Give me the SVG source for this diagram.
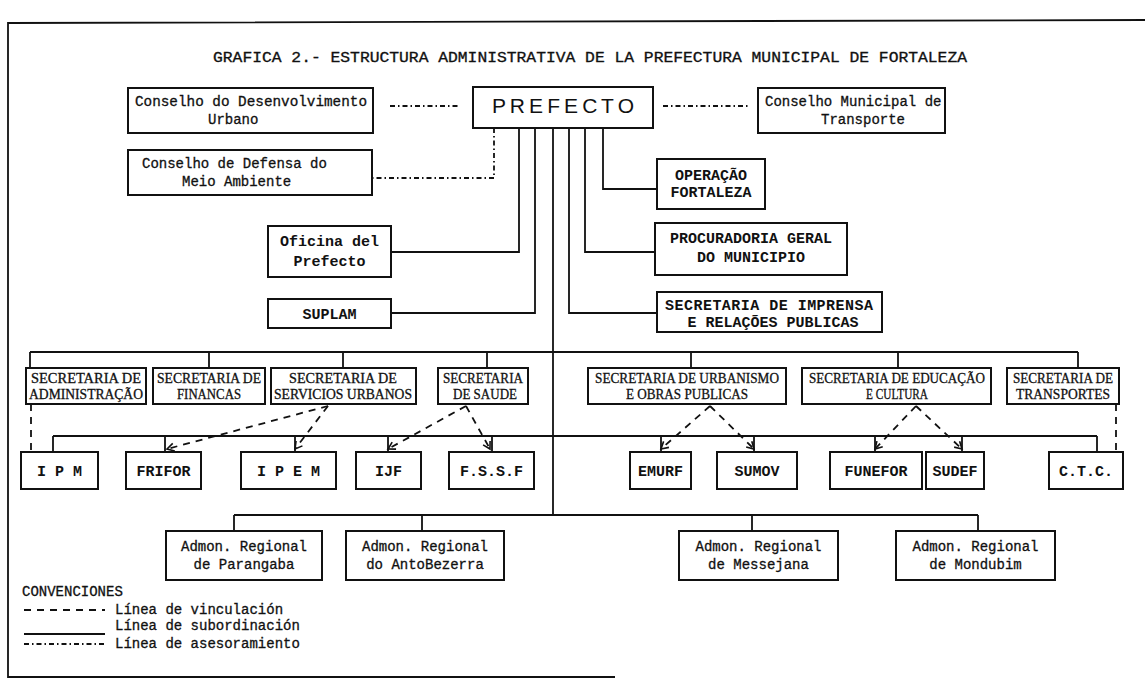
<svg xmlns="http://www.w3.org/2000/svg" width="1145" height="683" viewBox="0 0 1145 683">
<defs>
<style>
.box{fill:#fff;stroke:#111;stroke-width:2}
.sub{fill:none;stroke:#111;stroke-width:1.8}
.vin{fill:none;stroke:#111;stroke-width:1.8;stroke-dasharray:7 6}
.ase{fill:none;stroke:#111;stroke-width:1.8;stroke-dasharray:5 3 1.5 3}
.m{font-family:"Liberation Mono","DejaVu Sans Mono",monospace;font-weight:normal;fill:#111;font-size:14px;stroke:#111;stroke-width:0.3}
.mb{font-family:"Liberation Mono","DejaVu Sans Mono",monospace;font-weight:bold;fill:#111;font-size:15px}
.s{font-family:"Liberation Serif","DejaVu Serif",serif;fill:#111;font-size:14px;stroke:#111;stroke-width:0.3}
.c{text-anchor:middle}
</style>
<marker id="ah" markerWidth="10" markerHeight="10" refX="8" refY="5" orient="auto" markerUnits="userSpaceOnUse"><path d="M1,1 L8,5 L1,9" fill="none" stroke="#111" stroke-width="1.6"/></marker>
</defs>
<rect width="1145" height="683" fill="#fff"/>
<g id="frame" class="sub"><path d="M1145,20 L8,23 L8,677 L615,677"/></g>
<text id="title" class="m" x="213" y="62" font-size="15" textLength="754" lengthAdjust="spacingAndGlyphs">GRAFICA 2.- ESTRUCTURA ADMINISTRATIVA DE LA PREFECTURA MUNICIPAL DE FORTALEZA</text>

<g id="connectors">
<path class="ase" d="M390,106 H460"/>
<path class="ase" d="M663,106 H750"/>
<path class="ase" d="M494,128 V178 H372"/>
<path class="sub" d="M519,128 V252 H391"/>
<path class="sub" d="M535,128 V313 H391"/>
<path class="sub" d="M553,128 V515"/>
<path class="sub" d="M569,128 V313 H657"/>
<path class="sub" d="M585,128 V252 H655"/>
<path class="sub" d="M603,128 V189 H657"/>
<path class="sub" d="M30,352 H1078 M30,352 V368 M209,352 V368 M343,352 V368 M487,352 V368 M691,352 V368 M898,352 V368 M1078,352 V368"/>
<path class="sub" d="M53,436 H1097 M53,436 V452 M165,436 V452 M295,436 V452 M388,436 V452 M492,436 V452 M661,436 V452 M754,436 V452 M875,436 V452 M962,436 V452 M1097,436 V452"/>
<path class="sub" d="M234,515 H978 M234,515 V531 M422,515 V531 M752,515 V531 M978,515 V531"/>
<path class="vin" d="M31,404 V452"/>
<path class="vin" d="M328,406 L167,449" marker-end="url(#ah)"/>
<path class="vin" d="M328,406 L295,449" marker-end="url(#ah)"/>
<path class="vin" d="M466,406 L388,449" marker-end="url(#ah)"/>
<path class="vin" d="M466,406 L490,449" marker-end="url(#ah)"/>
<path class="vin" d="M710,406 L661,449" marker-end="url(#ah)"/>
<path class="vin" d="M710,406 L754,449" marker-end="url(#ah)"/>
<path class="vin" d="M916,406 L875,449" marker-end="url(#ah)"/>
<path class="vin" d="M916,406 L962,449" marker-end="url(#ah)"/>
<path class="vin" d="M1116,404 V452"/>
</g>

<g id="n-prefecto"><rect class="box" x="473" y="87" width="180" height="41"/><text x="563" y="113" class="c" font-family="Liberation Sans, Arial, sans-serif" font-size="21" fill="#111" textLength="142" lengthAdjust="spacing">P R E F E C T O</text></g>
<g id="n-cdu"><rect class="box" x="128" y="88" width="245" height="45"/><text class="m" x="135" y="106" textLength="232" lengthAdjust="spacingAndGlyphs">Conselho do Desenvolvimento</text><text class="m" x="208" y="124">Urbano</text></g>
<g id="n-cmt"><rect class="box" x="758" y="88" width="187" height="45"/><text class="m" x="765" y="106">Conselho Municipal de</text><text class="m" x="821" y="124">Transporte</text></g>
<g id="n-cdma"><rect class="box" x="128" y="150" width="244" height="45"/><text class="m" x="142" y="168">Conselho de Defensa do</text><text class="m" x="182" y="186">Meio Ambiente</text></g>
<g id="n-operacao"><rect class="box" x="657" y="159" width="108" height="50"/><text class="mb c" x="711" y="180">OPERAÇÃO</text><text class="mb c" x="711" y="197">FORTALEZA</text></g>
<g id="n-oficina"><rect class="box" x="268" y="226" width="123" height="51"/><text class="mb c" x="329.5" y="246">Oficina del</text><text class="mb c" x="329.5" y="266">Prefecto</text></g>
<g id="n-suplam"><rect class="box" x="268" y="299" width="123" height="29"/><text class="mb c" x="329.5" y="319">SUPLAM</text></g>
<g id="n-procuradoria"><rect class="box" x="655" y="223" width="192" height="52"/><text class="mb c" x="751" y="243">PROCURADORIA GERAL</text><text class="mb c" x="751" y="262">DO MUNICIPIO</text></g>
<g id="n-imprensa"><rect class="box" x="657" y="292" width="225" height="40"/><text class="mb c" x="769" y="310" textLength="208" lengthAdjust="spacing">SECRETARIA DE IMPRENSA</text><text class="mb c" x="773" y="327">E RELAÇÕES PUBLICAS</text></g>

<g id="n-sec-admin"><rect class="box" x="26" y="368" width="120" height="36"/><text class="s c" x="86" y="383" textLength="110" lengthAdjust="spacingAndGlyphs">SECRETARIA DE</text><text class="s c" x="86" y="399" textLength="114" lengthAdjust="spacingAndGlyphs">ADMINISTRAÇÃO</text></g>
<g id="n-sec-financas"><rect class="box" x="153" y="368" width="112" height="36"/><text class="s c" x="209" y="383" textLength="104" lengthAdjust="spacingAndGlyphs">SECRETARIA DE</text><text class="s c" x="209" y="399" textLength="64" lengthAdjust="spacingAndGlyphs">FINANCAS</text></g>
<g id="n-sec-servicios"><rect class="box" x="271" y="368" width="145" height="36"/><text class="s c" x="343" y="383" textLength="108" lengthAdjust="spacingAndGlyphs">SECRETARIA DE</text><text class="s c" x="343" y="399" textLength="138" lengthAdjust="spacingAndGlyphs">SERVICIOS URBANOS</text></g>
<g id="n-sec-saude"><rect class="box" x="438" y="368" width="90" height="36"/><text class="s c" x="483" y="383" textLength="80" lengthAdjust="spacingAndGlyphs">SECRETARIA</text><text class="s c" x="485" y="399" textLength="64" lengthAdjust="spacingAndGlyphs">DE SAUDE</text></g>
<g id="n-sec-urbanismo"><rect class="box" x="588" y="368" width="198" height="36"/><text class="s c" x="687" y="383" textLength="184" lengthAdjust="spacingAndGlyphs">SECRETARIA DE URBANISMO</text><text class="s c" x="687" y="399" textLength="122" lengthAdjust="spacingAndGlyphs">E OBRAS PUBLICAS</text></g>
<g id="n-sec-educacao"><rect class="box" x="802" y="368" width="189" height="36"/><text class="s c" x="897" y="383" textLength="176" lengthAdjust="spacingAndGlyphs">SECRETARIA DE EDUCAÇÃO</text><text class="s c" x="897" y="399" textLength="62" lengthAdjust="spacingAndGlyphs">E CULTURA</text></g>
<g id="n-sec-transportes"><rect class="box" x="1007" y="368" width="112" height="36"/><text class="s c" x="1063" y="383" textLength="100" lengthAdjust="spacingAndGlyphs">SECRETARIA DE</text><text class="s c" x="1063" y="399" textLength="94" lengthAdjust="spacingAndGlyphs">TRANSPORTES</text></g>

<g id="n-ipm"><rect class="box" x="21" y="452" width="77" height="37"/><text class="mb c" x="59.5" y="476">I P M</text></g>
<g id="n-frifor"><rect class="box" x="126" y="452" width="75" height="37"/><text class="mb c" x="163.5" y="476">FRIFOR</text></g>
<g id="n-ipem"><rect class="box" x="241" y="452" width="95" height="37"/><text class="mb c" x="288.5" y="476">I P E M</text></g>
<g id="n-ijf"><rect class="box" x="356" y="452" width="65" height="37"/><text class="mb c" x="388.5" y="476">IJF</text></g>
<g id="n-fssf"><rect class="box" x="449" y="452" width="85" height="37"/><text class="mb c" x="491.5" y="476">F.S.S.F</text></g>
<g id="n-emurf"><rect class="box" x="630" y="452" width="61" height="37"/><text class="mb c" x="660.5" y="476">EMURF</text></g>
<g id="n-sumov"><rect class="box" x="717" y="452" width="80" height="37"/><text class="mb c" x="757" y="476">SUMOV</text></g>
<g id="n-funefor"><rect class="box" x="830" y="452" width="92" height="37"/><text class="mb c" x="876" y="476">FUNEFOR</text></g>
<g id="n-sudef"><rect class="box" x="926" y="452" width="58" height="37"/><text class="mb c" x="955" y="476">SUDEF</text></g>
<g id="n-ctc"><rect class="box" x="1049" y="452" width="74" height="37"/><text class="mb c" x="1086" y="476">C.T.C.</text></g>

<g id="n-parangaba"><rect class="box" x="166" y="531" width="156" height="49"/><text class="m c" x="244" y="551" font-size="15">Admon. Regional</text><text class="m c" x="244" y="569" font-size="15">de Parangaba</text></g>
<g id="n-antobezerra"><rect class="box" x="346" y="531" width="158" height="49"/><text class="m c" x="425" y="551" font-size="15">Admon. Regional</text><text class="m c" x="425" y="569" font-size="15">do AntoBezerra</text></g>
<g id="n-messejana"><rect class="box" x="679" y="531" width="159" height="49"/><text class="m c" x="758.5" y="551" font-size="15">Admon. Regional</text><text class="m c" x="758.5" y="569" font-size="15">de Messejana</text></g>
<g id="n-mondubim"><rect class="box" x="896" y="531" width="159" height="49"/><text class="m c" x="975.5" y="551" font-size="15">Admon. Regional</text><text class="m c" x="975.5" y="569" font-size="15">de Mondubim</text></g>

<g id="legend">
<text class="m" x="22" y="596" font-size="14">CONVENCIONES</text>
<path class="vin" d="M24,610 H105" stroke-dasharray="5 2"/>
<text class="m" x="115" y="614" font-size="14">Línea de vinculación</text>
<path class="sub" d="M24,634 H105"/>
<text class="m" x="115" y="630" font-size="14">Línea de subordinación</text>
<path class="ase" d="M24,644 H105"/>
<text class="m" x="115" y="648" font-size="14">Línea de asesoramiento</text>
</g>
</svg>
